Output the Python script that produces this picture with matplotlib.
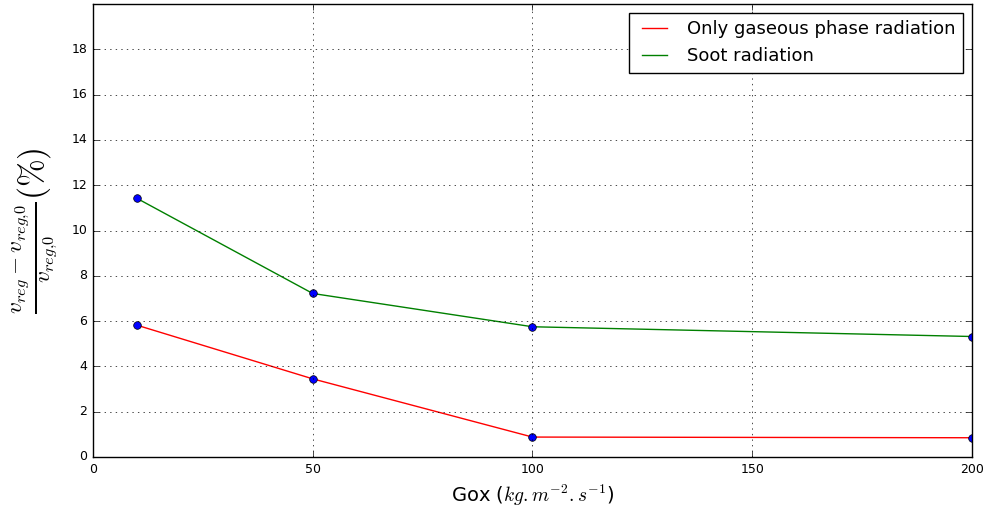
import matplotlib
matplotlib.use('Agg')
import matplotlib.pyplot as plt

plt.style.use('classic')

gox = [10, 50, 100, 200]
gas_only = [5.82, 3.45, 0.88, 0.85]
soot = [11.42, 7.22, 5.75, 5.32]

fig = plt.figure(figsize=(9.86, 5.08), dpi=100)
ax = fig.add_axes([0.0943, 0.1004, 0.8915, 0.8917])

ax.plot(gox, gas_only, 'r-', label='Only gaseous phase radiation')
ax.plot(gox, soot, 'g-', label='Soot radiation')
ax.plot(gox, gas_only, 'bo', markersize=5.5)
ax.plot(gox, soot, 'bo', markersize=5.5)

ax.set_xlim(0, 200)
ax.set_ylim(0, 20)
ax.set_xticks([0, 50, 100, 150, 200])
ax.set_yticks(range(0, 20, 2))
ax.tick_params(labelsize=9)
ax.grid(True)

ax.set_xlabel(r'Gox ($kg{.}m^{-2}{.}s^{-1}$)', fontsize=14)
ax.set_ylabel(r'$\frac{v_{reg}-v_{reg{,}0}}{v_{reg{,}0}} (\%)$', fontsize=24, labelpad=8)
ax.legend(loc='upper right', fontsize=13)

fig.savefig('out.png', dpi=100)
